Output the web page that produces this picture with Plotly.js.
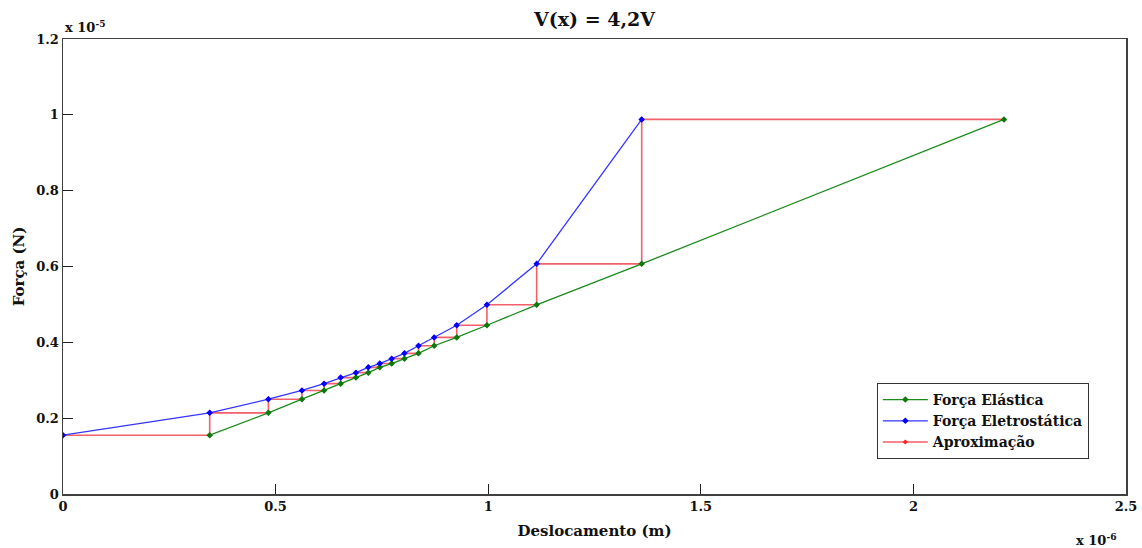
<!DOCTYPE html>
<html>
<head>
<meta charset="utf-8">
<script src="https://cdn.plot.ly/plotly-3.0.1.min.js"></script>
<style>html,body{margin:0;padding:0;background:#fff;}#chart{width:1142px;height:548px;}</style>
</head>
<body>
<div id="chart"></div>
<script>
// Iteration positions (x 10^-6 m)
const xIter = [0, 0.345, 0.483, 0.562, 0.614, 0.653, 0.689, 0.718, 0.745, 0.773, 0.803, 0.836, 0.873, 0.926, 0.997, 1.114, 1.361, 2.213];
// Electrostatic force at xIter[0..16] (x 10^-5 N); elastic force at xIter[n+1] equals it
const fEletro = [0.155, 0.214, 0.250, 0.273, 0.291, 0.307, 0.320, 0.334, 0.344, 0.357, 0.371, 0.391, 0.413, 0.445, 0.499, 0.607, 0.988];
const xTicks = [0, 0.5, 1, 1.5, 2, 2.5];
const yTicks = [0, 0.2, 0.4, 0.6, 0.8, 1, 1.2];

const xBlue = xIter.slice(0, fEletro.length);
const xGreen = xIter.slice(1, fEletro.length + 1);
const stairX = [], stairY = [];
for (let i = 0; i < fEletro.length; i++) {
  stairX.push(xIter[i], xIter[i + 1]);
  stairY.push(fEletro[i], fEletro[i]);
  if (i + 1 < fEletro.length) { stairX.push(xIter[i + 1]); stairY.push(fEletro[i + 1]); }
}

const FONT = 'DejaVu Serif';
const traces = [
  {x: stairX, y: stairY, name: 'Aproximação', mode: 'lines+markers', legendrank: 3,
   line: {color: '#f2606a', width: 1.6}, marker: {color: '#ff2020', size: 4, symbol: 'diamond'}},
  {x: xGreen, y: fEletro, name: 'Força Elástica', mode: 'lines+markers', legendrank: 1,
   line: {color: '#1a8a1a', width: 1.3}, marker: {color: '#0a7a0a', size: 5, symbol: 'diamond'}},
  {x: xBlue, y: fEletro, name: 'Força Eletrostática', mode: 'lines+markers', legendrank: 2,
   line: {color: '#3535ff', width: 1.3}, marker: {color: '#0000ff', size: 5, symbol: 'diamond'}}
];

const axisCommon = {
  showgrid: false, zeroline: false, showline: true, mirror: true,
  linecolor: '#404040', linewidth: 1.5, ticks: 'inside', ticklen: 10,
  tickcolor: '#202020', tickwidth: 1,
  tickfont: {family: FONT, size: 13, color: '#111', weight: 'bold'}
};

const layout = {
  width: 1142, height: 548,
  margin: {l: 63, r: 16, t: 39, b: 54},
  paper_bgcolor: '#fff', plot_bgcolor: '#fff',
  font: {family: FONT, color: '#111', weight: 'bold'},
  title: {text: 'V(x) = 4,2V', xref: 'paper', x: 0.5, xanchor: 'center', y: 0.965, yanchor: 'middle',
          font: {family: FONT, size: 19, color: '#111', weight: 'bold'}},
  xaxis: Object.assign({}, axisCommon, {
    range: [0, 2.5], tickvals: xTicks, ticktext: xTicks.map(String),
    title: {text: 'Deslocamento (m)', standoff: 12, font: {family: FONT, size: 15, color: '#111', weight: 'bold'}}
  }),
  yaxis: Object.assign({}, axisCommon, {
    range: [0, 1.2], tickvals: yTicks, ticktext: yTicks.map(String),
    title: {text: 'Força (N)', standoff: 8, font: {family: FONT, size: 15, color: '#111', weight: 'bold'}}
  }),
  showlegend: true,
  legend: {x: 0.7656, y: 0.244, xanchor: 'left', yanchor: 'top', traceorder: 'normal',
           itemwidth: 45, bgcolor: '#fff', bordercolor: '#333', borderwidth: 1,
           font: {family: FONT, size: 14, color: '#111', weight: 'bold'}},
  annotations: [
    {text: 'x 10<sup>-5</sup>', xref: 'paper', yref: 'paper', x: 0, y: 1.005, xanchor: 'left', yanchor: 'bottom',
     showarrow: false, font: {family: FONT, size: 13, color: '#111', weight: 'bold'}},
    {text: 'x 10<sup>-6</sup>', xref: 'paper', yref: 'paper', x: 0.9925, y: -0.1, xanchor: 'right', yanchor: 'middle',
     showarrow: false, font: {family: FONT, size: 13, color: '#111', weight: 'bold'}}
  ]
};

Plotly.newPlot('chart', traces, layout, {displayModeBar: false, staticPlot: true});
</script>
</body>
</html>
